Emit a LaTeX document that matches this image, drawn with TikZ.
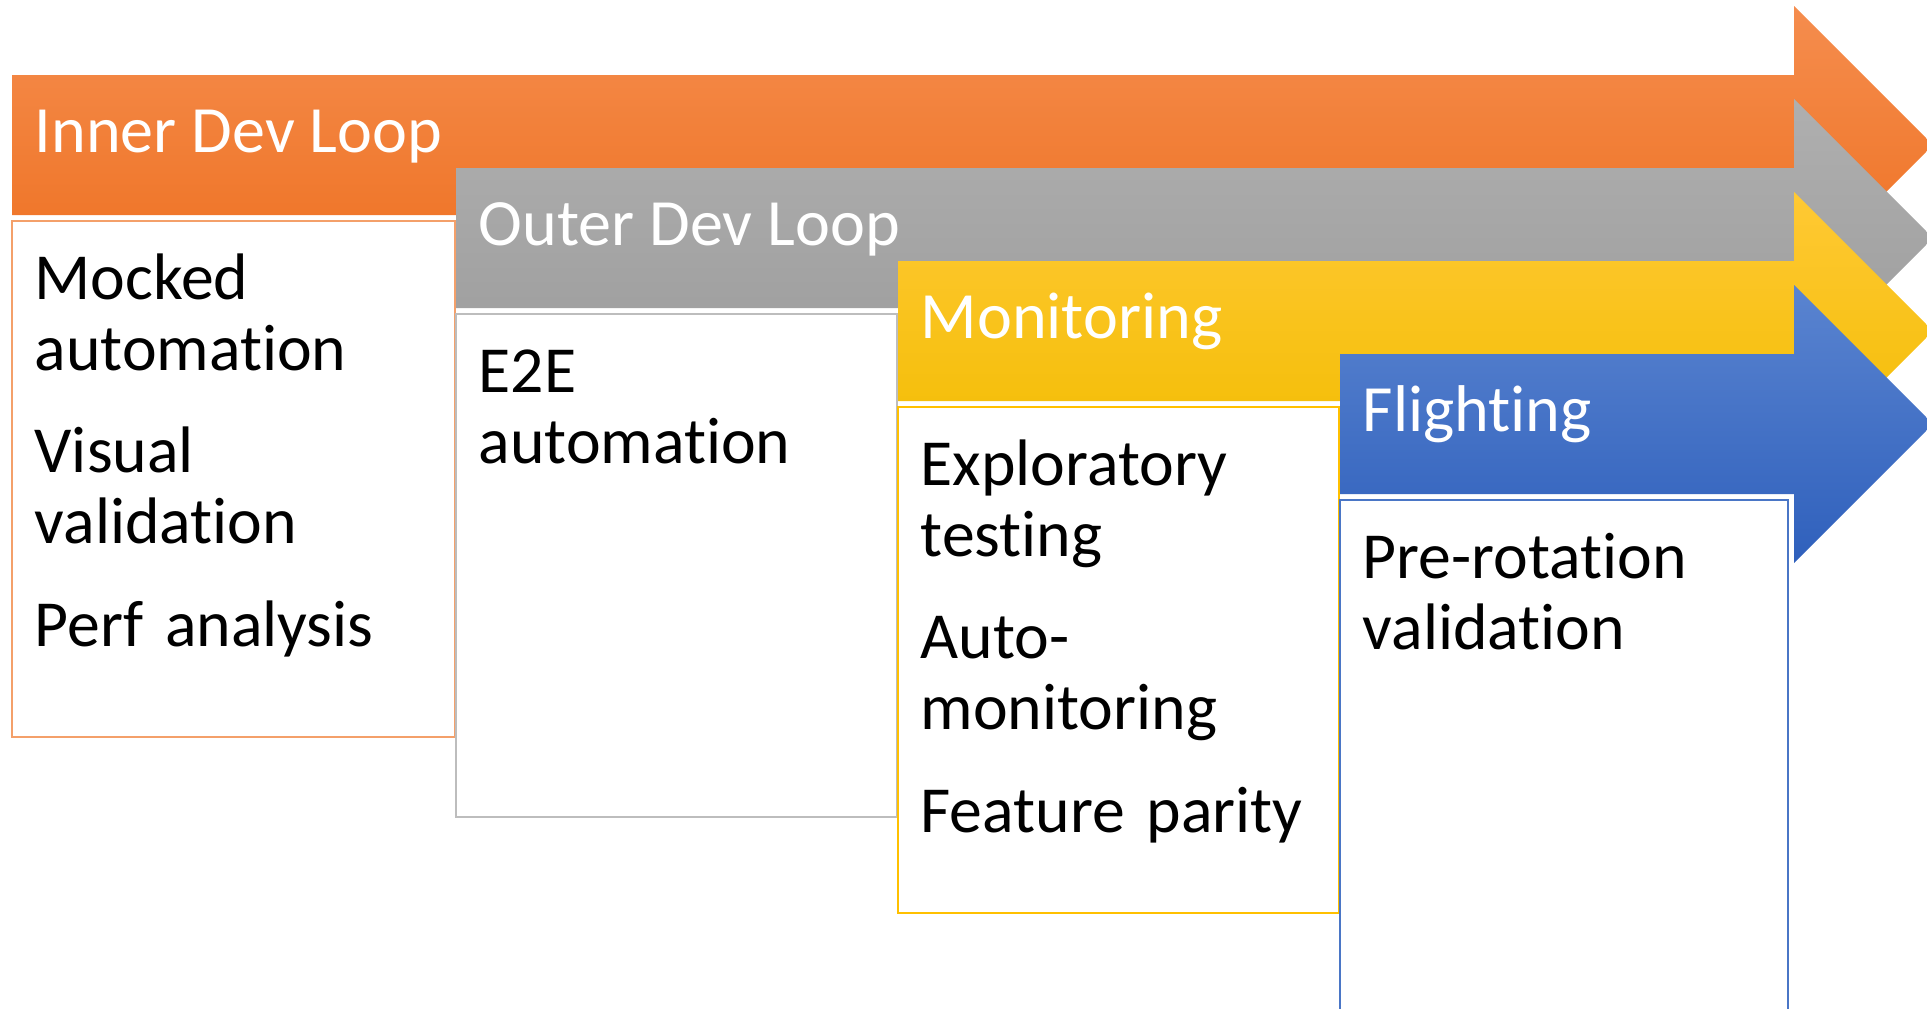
\documentclass[tikz,border=0pt]{standalone}
\usepackage{fontspec}
\setmainfont{Carlito}[Ligatures=NoCommon]
\usetikzlibrary{calc}

\definecolor{innerTop}{HTML}{F58D4E}
\definecolor{innerBot}{HTML}{EE7020}
\definecolor{innerLine}{HTML}{F4A06A}
\definecolor{outerTop}{HTML}{AFAFAF}
\definecolor{outerBot}{HTML}{9C9C9C}
\definecolor{outerLine}{HTML}{BDBDBD}
\definecolor{monTop}{HTML}{FFC934}
\definecolor{monBot}{HTML}{F2BC00}
\definecolor{monLine}{HTML}{FFC000}
\definecolor{flightTop}{HTML}{5A84D0}
\definecolor{flightBot}{HTML}{2F60BC}
\definecolor{flightLine}{HTML}{4A76C6}

\begin{document}
\begin{tikzpicture}[
    x=0.01cm, y=-0.01cm,
    stage/.style={font=\fontsize{18.8}{22}\selectfont, text=white,
                  anchor=base west, inner sep=0pt},
    box/.style={rectangle, fill=white, line width=0.6pt, anchor=north west,
                inner sep=0pt, outer sep=0pt},
    item/.style={font=\fontsize{18.7}{20.2}\selectfont, text width=4.1cm,
                 align=left, anchor=base west, inner sep=0pt}
]
\clip (0,0) rectangle (1927,1009);

% inner dev loop
\shade[top color=innerTop, bottom color=innerBot]
    (12,75) -- (1794,75) -- (1794,6) -- (1933,145) -- (1794,284) -- (1794,215) -- (12,215) -- cycle;
\node[stage] (inner) at (34,152) {Inner Dev Loop};
\node[box, draw=innerLine, minimum width=4.43cm, minimum height=5.16cm] (innerbox) at (12,221) {};
\node[item] (inneritems) at ($(innerbox.north west)+(22,78)$)
    {Mocked\\automation\\[9pt]Visual\\validation\\[9pt]Perf analysis};

% outer dev loop
\shade[top color=outerTop, bottom color=outerBot]
    (456,168) -- (1794,168) -- (1794,99) -- (1933,238) -- (1794,377) -- (1794,308) -- (456,308) -- cycle;
\node[stage] (outer) at (478,245) {Outer Dev Loop};
\node[box, draw=outerLine, minimum width=4.41cm, minimum height=5.03cm] (outerbox) at (456,314) {};
\node[item] (outeritems) at ($(outerbox.north west)+(22,78)$)
    {E2E\\automation};

% monitoring
\shade[top color=monTop, bottom color=monBot]
    (898,261) -- (1794,261) -- (1794,192) -- (1933,331) -- (1794,470) -- (1794,401) -- (898,401) -- cycle;
\node[stage] (mon) at (920,338) {Monitoring};
\node[box, draw=monLine, minimum width=4.41cm, minimum height=5.06cm] (monbox) at (898,407) {};
\node[item] (monitems) at ($(monbox.north west)+(22,78)$)
    {Exploratory\\testing\\[9pt]Auto-\\monitoring\\[9pt]Feature parity};

% flighting
\shade[top color=flightTop, bottom color=flightBot]
    (1340,354) -- (1794,354) -- (1794,285) -- (1933,424) -- (1794,563) -- (1794,494) -- (1340,494) -- cycle;
\node[stage] (flight) at (1362,431) {Flighting};
\node[box, draw=flightLine, minimum width=4.48cm, minimum height=5.3cm] (flightbox) at (1340,500) {};
\node[item] (flightitems) at ($(flightbox.north west)+(22,78)$)
    {Pre-rotation\\validation};
\end{tikzpicture}
\end{document}
